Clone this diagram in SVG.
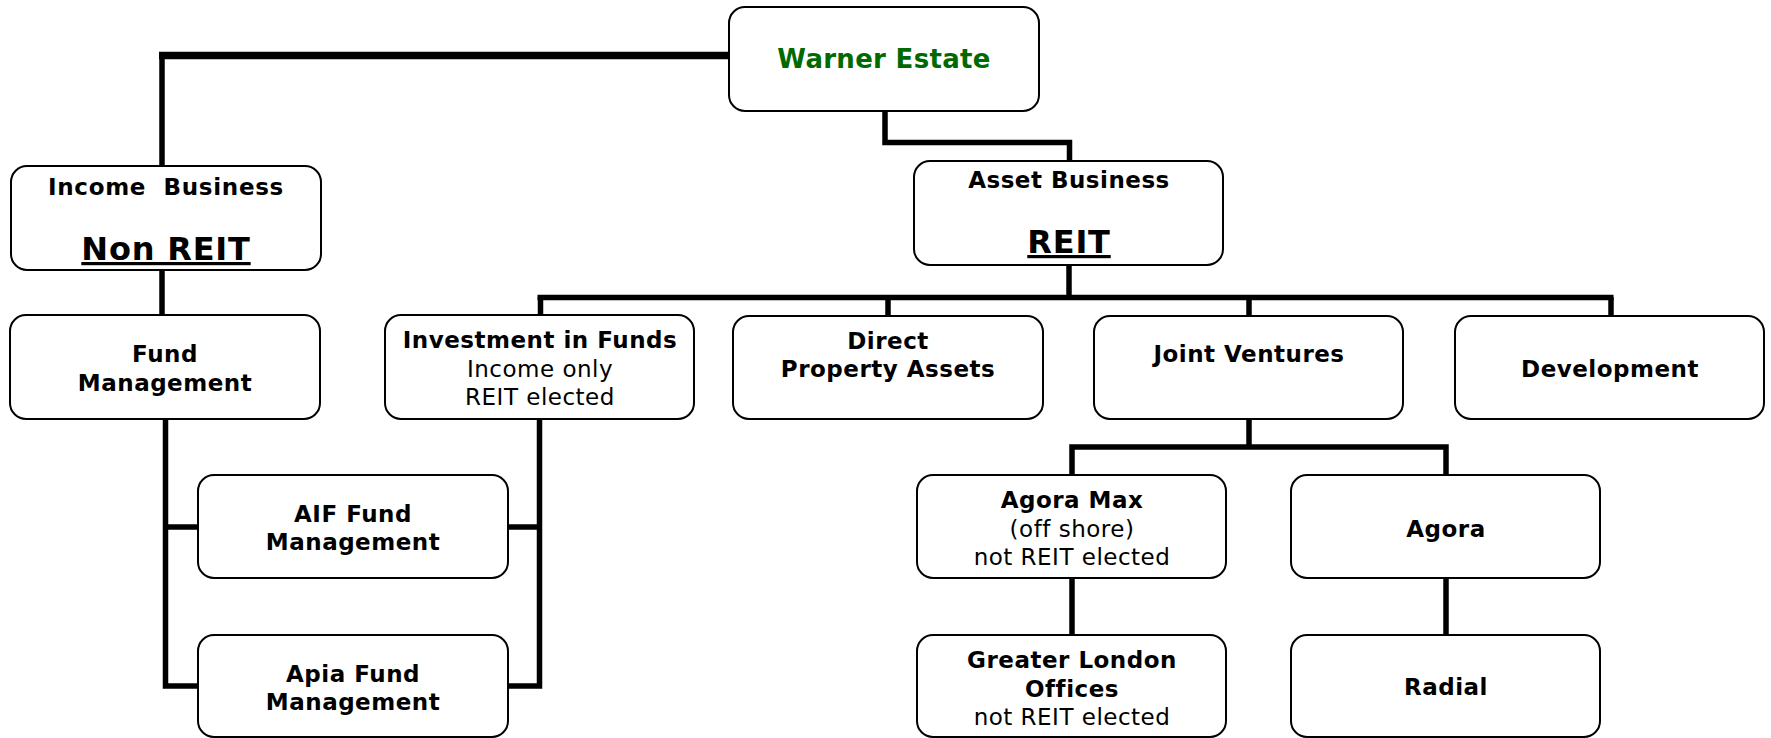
<svg xmlns="http://www.w3.org/2000/svg" width="1771" height="738" viewBox="0 0 1771 738">
<style>
.box{fill:#fff;stroke:#000;stroke-width:2}
.c{fill:none;stroke:#000;stroke-width:5.5;stroke-linejoin:miter;stroke-linecap:butt}
.b{font-family:"DejaVu Sans",Verdana,sans-serif;font-weight:bold;font-size:23px;fill:#000;text-anchor:middle;letter-spacing:0.5px}
.r{font-family:"DejaVu Sans",Verdana,sans-serif;font-size:23px;fill:#000;text-anchor:middle;letter-spacing:0.5px}
.big{font-family:"DejaVu Sans",Verdana,sans-serif;font-weight:bold;font-size:32px;fill:#000;text-anchor:middle;letter-spacing:0.8px;text-decoration:underline}
</style>
<rect width="1771" height="738" fill="#fff"/>
<g id="connectors">
<path class="c" d="M731 55.5 H159" style="stroke-width:7.5"/>
<path class="c" d="M162 52 V166"/>
<path class="c" d="M162 270 V315"/>
<path class="c" d="M885 111 V142.5 H1069.5 V161"/>
<path class="c" d="M1069 265 V297"/>
<path class="c" d="M537.5 297.5 H1613.5"/>
<path class="c" d="M540.5 297 V315"/>
<path class="c" d="M888 297 V316"/>
<path class="c" d="M1249 297 V316"/>
<path class="c" d="M1611 297 V316"/>
<path class="c" d="M165.5 419 V686 H198"/>
<path class="c" d="M165.5 527 H198"/>
<path class="c" d="M539.5 419 V686 H508"/>
<path class="c" d="M539.5 527 H508"/>
<path class="c" d="M1249 419 V447"/>
<path class="c" d="M1072 475 V447 H1446 V475"/>
<path class="c" d="M1072 578 V635"/>
<path class="c" d="M1446 578 V635"/>
</g>
<g id="warner">
<rect class="box" x="729" y="7" width="310" height="104" rx="16"/>
<text class="b" x="884" y="68" style="font-size:26px;letter-spacing:0.3px;fill:#006a00">Warner Estate</text>
</g>
<g id="income">
<rect class="box" x="11" y="166" width="310" height="104" rx="16"/>
<text class="b" x="166" y="195" xml:space="preserve" style="letter-spacing:0.7px">Income  Business</text>
<text class="big" x="166" y="260">Non REIT</text>
</g>
<g id="asset">
<rect class="box" x="914" y="161" width="309" height="104" rx="16"/>
<text class="b" x="1069" y="188">Asset Business</text>
<text class="big" x="1069" y="253">REIT</text>
</g>
<g id="fund">
<rect class="box" x="10" y="315" width="310" height="104" rx="16"/>
<text class="b" x="165" y="362">Fund</text>
<text class="b" x="165" y="391">Management</text>
</g>
<g id="investment">
<rect class="box" x="385" y="315" width="309" height="104" rx="16"/>
<text class="b" x="540" y="348">Investment in Funds</text>
<text class="r" x="540" y="377">Income only</text>
<text class="r" x="540" y="405">REIT elected</text>
</g>
<g id="direct">
<rect class="box" x="733" y="316" width="310" height="103" rx="16"/>
<text class="b" x="888" y="349">Direct</text>
<text class="b" x="888" y="377">Property Assets</text>
</g>
<g id="jv">
<rect class="box" x="1094" y="316" width="309" height="103" rx="16"/>
<text class="b" x="1249" y="362">Joint Ventures</text>
</g>
<g id="development">
<rect class="box" x="1455" y="316" width="309" height="103" rx="16"/>
<text class="b" x="1610" y="377">Development</text>
</g>
<g id="aif">
<rect class="box" x="198" y="475" width="310" height="103" rx="16"/>
<text class="b" x="353" y="522">AIF Fund</text>
<text class="b" x="353" y="550">Management</text>
</g>
<g id="apia">
<rect class="box" x="198" y="635" width="310" height="102" rx="16"/>
<text class="b" x="353" y="682">Apia Fund</text>
<text class="b" x="353" y="710">Management</text>
</g>
<g id="agoramax">
<rect class="box" x="917" y="475" width="309" height="103" rx="16"/>
<text class="b" x="1072" y="508">Agora Max</text>
<text class="r" x="1072" y="537">(off shore)</text>
<text class="r" x="1072" y="565">not REIT elected</text>
</g>
<g id="agora">
<rect class="box" x="1291" y="475" width="309" height="103" rx="16"/>
<text class="b" x="1446" y="537">Agora</text>
</g>
<g id="glo">
<rect class="box" x="917" y="635" width="309" height="102" rx="16"/>
<text class="b" x="1072" y="668">Greater London</text>
<text class="b" x="1072" y="697">Offices</text>
<text class="r" x="1072" y="725">not REIT elected</text>
</g>
<g id="radial">
<rect class="box" x="1291" y="635" width="309" height="102" rx="16"/>
<text class="b" x="1446" y="695">Radial</text>
</g>
</svg>
